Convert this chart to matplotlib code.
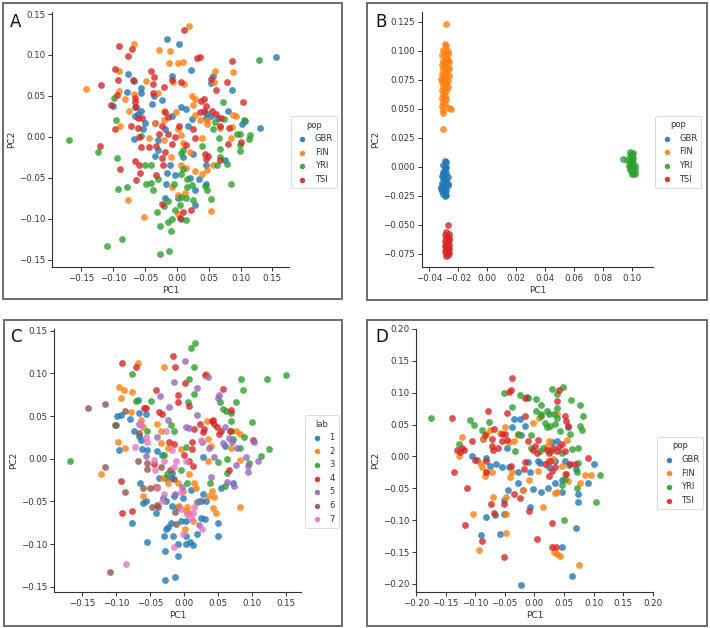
import matplotlib
matplotlib.use("Agg")
import matplotlib.pyplot as plt
from matplotlib.patches import Rectangle
from matplotlib.ticker import MultipleLocator

# ---- panel A : PCA coloured by population (pairs of PC1, PC2) ----
A_GBR = [(0.155, 0.098), (-0.015, 0.119), (0.004, 0.113), (0.022, 0.082), (-0.007, 0.074),
         (-0.077, 0.077), (-0.068, 0.068), (0.056, 0.074), (0.054, 0.066), (0.087, 0.057),
         (-0.056, 0.060), (-0.056, 0.054), (-0.078, 0.055), (-0.036, 0.050), (-0.024, 0.045),
         (0.006, 0.036), (0.015, 0.034), (-0.039, 0.040), (-0.066, 0.036), (-0.101, 0.038),
         (-0.056, 0.032), (-0.061, 0.028), (-0.066, 0.026), (0.045, 0.029), (0.046, 0.023),
         (0.054, 0.026), (0.081, 0.031), (0.065, 0.023), (0.023, 0.022), (0.017, 0.013),
         (-0.007, 0.026), (-0.018, 0.010), (-0.034, 0.017), (-0.050, 0.017), (-0.053, 0.010),
         (-0.068, -0.003), (-0.030, -0.004), (-0.030, -0.016), (-0.035, -0.023), (-0.011, -0.034),
         (0.026, -0.021), (0.009, -0.025), (0.045, -0.035), (0.075, -0.028), (0.130, 0.011),
         (0.107, 0.019), (-0.016, -0.044), (-0.003, -0.047), (-0.017, -0.058), (0.020, -0.050),
         (0.034, -0.052), (0.045, -0.057), (0.028, -0.065), (-0.019, -0.075), (0.002, -0.075),
         (0.028, -0.083), (0.006, -0.100), (0.102, 0.016)]
A_FIN = [(0.019, 0.136), (-0.068, 0.113), (-0.028, 0.106), (-0.011, 0.105), (-0.013, 0.090),
         (0.002, 0.090), (0.010, 0.092), (-0.142, 0.058), (-0.091, 0.080), (-0.091, 0.056),
         (-0.081, 0.046), (-0.067, 0.052), (-0.049, 0.068), (-0.030, 0.053), (-0.006, 0.067),
         (0.011, 0.064), (0.024, 0.050), (0.029, 0.046), (0.026, 0.039), (0.060, 0.080),
         (0.088, 0.079), (0.059, 0.067), (0.088, 0.027), (0.093, 0.025), (-0.075, 0.032),
         (-0.089, 0.013), (-0.020, 0.031), (-0.020, 0.020), (-0.002, 0.030), (0.028, 0.027),
         (0.037, 0.021), (0.048, 0.021), (0.048, 0.016), (0.068, 0.011), (0.086, 0.012),
         (-0.034, 0.017), (-0.044, -0.002), (-0.020, -0.004), (0.001, 0.010), (0.006, 0.002),
         (0.009, -0.008), (0.039, -0.002), (0.085, -0.002), (-0.010, -0.025), (0.007, -0.035),
         (0.015, -0.038), (0.029, -0.042), (0.039, -0.045), (0.048, -0.041), (0.057, -0.035),
         (-0.008, -0.061), (0.012, -0.069), (0.001, -0.071), (-0.077, -0.077), (-0.052, -0.098),
         (0.054, -0.091), (0.002, -0.094), (0.020, -0.019)]
A_YRI = [(0.129, 0.094), (-0.170, -0.004), (-0.124, -0.019), (-0.099, 0.048), (-0.096, 0.020),
         (-0.094, -0.026), (-0.092, -0.064), (-0.078, -0.061), (-0.110, -0.133), (-0.086, -0.125),
         (-0.056, 0.001), (-0.050, -0.035), (-0.040, -0.034), (-0.049, -0.058), (-0.040, -0.056),
         (-0.037, -0.065), (-0.030, -0.052), (-0.031, -0.092), (-0.027, -0.109), (-0.026, -0.143),
         (-0.013, -0.139), (-0.009, -0.115), (-0.014, -0.104), (-0.008, -0.100), (-0.020, -0.085),
         (-0.014, -0.078), (-0.004, -0.057), (0.007, -0.045), (0.009, -0.039), (0.006, -0.020),
         (0.010, -0.016), (0.016, -0.052), (0.016, -0.061), (0.023, -0.059), (0.015, -0.075),
         (0.025, -0.077), (0.006, -0.074), (0.005, -0.083), (-0.003, -0.089), (0.014, -0.102),
         (0.044, -0.060), (0.048, -0.065), (0.054, -0.076), (0.085, -0.057), (0.078, -0.033),
         (0.063, -0.034), (0.068, -0.015), (0.068, -0.025), (0.056, 0.010), (0.060, 0.018),
         (0.073, 0.043), (0.074, 0.022), (0.066, -0.001), (0.040, -0.011), (0.094, 0.003),
         (0.099, -0.010), (0.099, -0.017), (0.105, 0.021), (0.115, 0.002), (0.113, -0.003),
         (0.099, 0.004)]
A_TSI = [(0.011, 0.130), (-0.091, 0.111), (-0.071, 0.107), (-0.076, 0.099), (0.032, 0.096),
         (0.037, 0.098), (0.086, 0.093), (-0.097, 0.083), (-0.092, 0.070), (-0.119, 0.063),
         (-0.069, 0.069), (-0.041, 0.081), (-0.036, 0.073), (-0.037, 0.065), (-0.037, 0.054),
         (-0.020, 0.061), (-0.007, 0.069), (0.007, 0.067), (0.053, 0.071), (0.061, 0.057),
         (0.078, 0.067), (-0.094, 0.051), (-0.103, 0.039), (-0.066, 0.047), (-0.066, 0.042),
         (-0.064, 0.036), (-0.061, 0.023), (-0.055, 0.023), (-0.061, 0.011), (-0.072, 0.013),
         (-0.097, 0.009), (-0.019, 0.030), (-0.014, 0.024), (-0.024, 0.013), (-0.028, 0.004),
         (-0.032, -0.011), (-0.044, -0.013), (-0.056, -0.013), (-0.120, -0.011), (-0.065, -0.029),
         (-0.060, -0.035), (-0.058, -0.044), (-0.064, -0.053), (-0.090, -0.039), (-0.032, -0.047),
         (-0.059, 0.000), (-0.014, 0.004), (-0.008, -0.009), (0.004, 0.013), (-0.003, 0.000),
         (-0.019, -0.019), (-0.024, -0.026), (-0.021, -0.034), (0.038, 0.044), (0.043, 0.046),
         (0.045, 0.038), (0.043, 0.032), (0.037, 0.030), (0.055, 0.032), (0.062, 0.028),
         (0.069, 0.023), (0.068, 0.013), (0.082, 0.011), (0.104, 0.042), (0.100, -0.006),
         (0.080, -0.009), (0.044, -0.021), (0.045, -0.027), (0.049, -0.023), (0.028, -0.002),
         (0.015, -0.010), (-0.024, -0.082), (0.010, -0.092), (0.022, -0.089), (0.005, -0.099),
         (0.068, -0.028), (0.026, 0.010)]

# ---- panel B : projection separating the four populations ----
B_GBR = [(-0.029, 0.005), (-0.028, 0.004), (-0.030, 0.002), (-0.028, 0.000), (-0.029, -0.002),
         (-0.030, -0.004), (-0.028, -0.005), (-0.029, -0.007), (-0.031, -0.008), (-0.027, -0.009),
         (-0.030, -0.010), (-0.029, -0.012), (-0.028, -0.013), (-0.031, -0.014), (-0.030, -0.015),
         (-0.027, -0.015), (-0.032, -0.017), (-0.029, -0.018), (-0.030, -0.019), (-0.028, -0.020),
         (-0.031, -0.021), (-0.029, -0.022), (-0.030, -0.023), (-0.029, -0.025), (-0.028, -0.024),
         (-0.027, -0.016), (-0.032, -0.019), (-0.028, -0.011), (-0.030, -0.006), (-0.029, -0.001)]
B_FIN = [(-0.028, 0.123), (-0.029, 0.106), (-0.028, 0.104), (-0.030, 0.101), (-0.027, 0.100),
         (-0.029, 0.098), (-0.031, 0.096), (-0.028, 0.094), (-0.027, 0.092), (-0.030, 0.091),
         (-0.029, 0.089), (-0.026, 0.090), (-0.031, 0.088), (-0.028, 0.086), (-0.030, 0.084),
         (-0.027, 0.083), (-0.029, 0.081), (-0.031, 0.080), (-0.028, 0.079), (-0.026, 0.078),
         (-0.030, 0.077), (-0.029, 0.075), (-0.027, 0.074), (-0.031, 0.073), (-0.028, 0.072),
         (-0.030, 0.070), (-0.029, 0.068), (-0.031, 0.066), (-0.028, 0.065), (-0.030, 0.063),
         (-0.029, 0.061), (-0.031, 0.059), (-0.028, 0.058), (-0.030, 0.056), (-0.029, 0.054),
         (-0.031, 0.052), (-0.026, 0.051), (-0.025, 0.050), (-0.030, 0.049), (-0.030, 0.046),
         (-0.030, 0.033), (-0.027, 0.097), (-0.026, 0.085), (-0.032, 0.076), (-0.027, 0.069)]
B_YRI = [(0.099, 0.013), (0.100, 0.011), (0.101, 0.012), (0.099, 0.009), (0.101, 0.008),
         (0.094, 0.007), (0.097, 0.006), (0.100, 0.006), (0.099, 0.004), (0.101, 0.003),
         (0.100, 0.002), (0.102, 0.001), (0.099, 0.000), (0.101, -0.001), (0.100, -0.002),
         (0.102, -0.003), (0.099, -0.003), (0.101, -0.005), (0.100, -0.006), (0.102, -0.006),
         (0.098, 0.001), (0.100, 0.010)]
B_TSI = [(-0.027, -0.050), (-0.028, -0.056), (-0.026, -0.058), (-0.029, -0.059), (-0.027, -0.060),
         (-0.028, -0.062), (-0.026, -0.063), (-0.029, -0.064), (-0.027, -0.065), (-0.028, -0.066),
         (-0.026, -0.067), (-0.029, -0.068), (-0.027, -0.069), (-0.028, -0.070), (-0.026, -0.071),
         (-0.029, -0.072), (-0.027, -0.073), (-0.028, -0.074), (-0.026, -0.074), (-0.027, -0.076),
         (-0.028, -0.077), (-0.026, -0.061), (-0.028, -0.068), (-0.027, -0.071)]

# ---- panel C : same PCA, coloured by lab ----
C_LAB1 = [(-0.067, 0.069), (-0.098, 0.050), (-0.092, 0.051), (-0.079, 0.047), (-0.066, 0.054),
          (-0.056, 0.052), (-0.074, 0.032), (-0.066, 0.027), (-0.063, 0.022), (-0.096, 0.010),
          (-0.062, 0.012), (-0.054, 0.010), (-0.039, 0.009), (-0.032, 0.005), (-0.036, -0.023),
          (-0.027, -0.022), (-0.018, -0.017), (-0.017, -0.023), (-0.064, -0.028), (-0.061, -0.052),
          (-0.056, -0.050), (-0.076, -0.075), (-0.041, -0.064), (-0.031, -0.046), (-0.027, -0.050),
          (-0.018, -0.055), (-0.015, -0.043), (-0.024, -0.080), (-0.026, -0.082), (-0.030, -0.091),
          (-0.019, -0.075), (-0.016, -0.091), (-0.009, -0.100), (-0.004, -0.073), (0.003, -0.073),
          (0.003, -0.091), (0.003, -0.100), (0.009, -0.097), (0.013, -0.101), (0.020, -0.088),
          (-0.054, -0.097), (-0.028, -0.108), (-0.009, -0.114), (-0.028, -0.142), (-0.013, -0.138),
          (0.025, -0.050), (0.033, -0.050), (0.028, -0.041), (0.025, -0.069), (0.031, -0.070),
          (0.051, -0.075), (0.051, -0.090), (0.055, -0.034), (0.072, -0.028), (-0.009, -0.057),
          (-0.002, -0.046), (0.010, -0.036), (0.028, 0.002), (0.060, 0.015)]
C_LAB2 = [(-0.068, 0.112), (-0.029, 0.107), (0.033, 0.099), (-0.095, 0.084), (-0.089, 0.080),
          (-0.092, 0.071), (-0.076, 0.078), (-0.078, 0.055), (-0.063, 0.045), (-0.061, 0.037),
          (-0.039, 0.041), (-0.034, 0.033), (-0.097, 0.020), (-0.087, 0.013), (-0.034, 0.018),
          (-0.023, 0.013), (-0.004, 0.011), (-0.122, -0.018), (-0.060, -0.043), (-0.042, -0.033),
          (-0.031, -0.023), (-0.024, -0.028), (-0.009, -0.028), (-0.002, -0.038), (0.008, -0.018),
          (0.015, -0.028), (0.018, -0.034), (0.005, -0.057), (-0.007, -0.055), (0.003, -0.061),
          (0.008, -0.064), (0.002, -0.082), (0.014, -0.073), (0.035, -0.043), (0.041, -0.038),
          (0.035, -0.002), (0.040, 0.015), (0.045, -0.045), (0.043, -0.058), (0.047, -0.063),
          (0.082, -0.057), (0.034, 0.044), (0.035, 0.023), (0.077, 0.032), (0.083, 0.029),
          (0.082, -0.001), (0.069, 0.013)]
C_LAB3 = [(0.010, 0.130), (0.017, 0.136), (0.015, 0.108), (0.008, 0.093), (0.015, 0.076),
          (-0.076, 0.099), (-0.070, 0.068), (-0.049, 0.068), (0.006, 0.066), (0.084, 0.093),
          (0.087, 0.080), (0.123, 0.094), (0.151, 0.098), (0.053, 0.067), (0.057, 0.058),
          (0.062, 0.056), (0.069, 0.054), (0.077, 0.067), (0.070, 0.044), (0.100, 0.043),
          (0.126, 0.012), (0.113, 0.003), (0.096, -0.005), (0.089, 0.026), (0.083, 0.013),
          (0.064, 0.000), (0.051, -0.004), (0.072, 0.023), (0.069, 0.033), (0.064, -0.017),
          (0.060, -0.032), (0.039, -0.028), (-0.019, 0.039), (-0.014, 0.032), (0.003, 0.014),
          (-0.029, 0.004), (-0.004, -0.013), (-0.025, -0.018), (-0.100, 0.040), (-0.055, 0.033),
          (-0.168, -0.002), (0.005, -0.028), (0.020, -0.051)]
C_LAB4 = [(-0.016, 0.120), (-0.013, 0.107), (-0.091, 0.112), (-0.071, 0.108), (0.001, 0.089),
          (-0.008, 0.075), (-0.008, 0.066), (0.008, 0.062), (-0.041, 0.081), (-0.056, 0.060),
          (-0.036, 0.055), (-0.033, 0.053), (0.031, 0.098), (0.057, 0.082), (0.069, 0.057),
          (0.024, 0.041), (0.030, 0.035), (0.028, 0.031), (0.015, 0.035), (0.041, 0.044),
          (0.044, 0.041), (0.049, 0.037), (0.054, 0.033), (0.043, 0.046), (0.068, 0.032),
          (0.052, 0.029), (0.012, 0.020), (0.012, 0.011), (0.000, 0.005), (0.008, -0.002),
          (0.013, -0.008), (-0.022, 0.020), (-0.014, 0.017), (-0.044, -0.006), (-0.093, -0.026),
          (-0.091, -0.063), (-0.077, -0.061), (0.066, -0.013), (0.102, 0.022), (-0.059, 0.060)]
C_LAB5 = [(0.002, 0.114), (-0.014, 0.090), (0.020, 0.083), (0.035, 0.096), (-0.035, 0.073),
          (-0.022, 0.061), (0.020, 0.051), (0.052, 0.075), (0.051, 0.071), (-0.024, 0.046),
          (0.003, 0.037), (0.008, 0.036), (0.060, 0.037), (0.057, 0.019), (0.066, 0.024),
          (0.071, 0.020), (0.078, 0.013), (0.091, 0.002), (0.094, -0.008), (0.094, -0.016),
          (0.109, -0.002), (0.104, 0.020), (0.077, -0.007), (0.074, -0.032), (0.063, -0.027),
          (0.040, -0.021), (0.037, 0.013), (0.026, 0.020), (0.045, 0.002), (-0.039, 0.026),
          (-0.056, 0.003), (-0.066, 0.041), (-0.003, -0.033), (-0.013, -0.041), (0.022, -0.050),
          (0.023, -0.077)]
C_LAB6 = [(-0.141, 0.059), (-0.117, 0.064), (-0.101, 0.039), (-0.087, 0.056), (-0.066, 0.030),
          (-0.067, -0.002), (-0.055, -0.005), (-0.054, -0.012), (-0.117, -0.010), (-0.087, -0.039),
          (-0.060, -0.034), (-0.050, -0.034), (-0.039, -0.033), (-0.047, -0.056), (-0.040, -0.054),
          (-0.038, -0.057), (-0.034, -0.010), (-0.021, -0.013), (-0.015, -0.024), (-0.013, -0.062),
          (-0.011, -0.076), (-0.109, -0.132)]
C_LAB7 = [(-0.072, 0.014), (-0.063, 0.039), (-0.064, 0.042), (-0.056, 0.025), (-0.054, 0.020),
          (-0.044, -0.001), (-0.042, -0.013), (-0.029, -0.002), (-0.026, 0.032), (-0.017, 0.010),
          (-0.012, -0.002), (-0.014, -0.010), (0.003, -0.002), (-0.039, -0.034), (-0.029, -0.041),
          (-0.033, -0.050), (-0.004, -0.039), (0.005, -0.065), (0.010, -0.069), (0.013, -0.063),
          (0.015, -0.056), (-0.002, -0.088), (-0.014, -0.103), (0.027, -0.082), (0.025, 0.022),
          (-0.086, -0.123), (-0.004, -0.059)]

# ---- panel D : another PCA, coloured by population ----
D_GBR = [(-0.023, -0.201), (0.063, -0.188), (0.070, -0.112), (0.047, -0.142), (-0.090, -0.123),
         (-0.058, -0.122), (-0.082, -0.095), (-0.066, -0.092), (-0.052, -0.091), (-0.051, -0.069),
         (-0.045, -0.053), (-0.007, -0.080), (-0.020, -0.053), (-0.003, -0.051), (0.012, -0.056),
         (0.023, -0.049), (0.035, -0.041), (0.047, -0.055), (0.046, -0.037), (0.073, -0.059),
         (0.073, -0.071), (0.090, -0.042), (0.100, -0.012), (0.070, -0.020), (0.052, -0.007),
         (-0.106, 0.000), (-0.097, -0.005), (-0.081, -0.002), (-0.075, -0.015), (-0.065, -0.012),
         (-0.055, -0.017), (-0.043, -0.016), (-0.047, 0.014), (-0.034, 0.059), (-0.024, 0.059),
         (-0.015, 0.048), (-0.013, 0.093), (-0.038, 0.046), (-0.023, 0.033), (-0.028, -0.025),
         (-0.027, -0.041), (-0.007, -0.025), (-0.010, -0.008), (0.007, -0.007), (0.010, -0.011),
         (0.035, -0.007), (0.024, -0.017), (0.038, 0.025), (0.030, 0.022), (-0.086, 0.027),
         (0.057, 0.046)]
D_FIN = [(-0.122, 0.031), (-0.127, 0.000), (-0.092, -0.011), (-0.089, -0.016), (-0.083, -0.030),
         (-0.081, -0.024), (-0.072, -0.024), (-0.086, 0.027), (-0.082, 0.035), (-0.075, 0.042),
         (-0.058, 0.037), (-0.050, 0.046), (-0.042, 0.022), (-0.034, 0.025), (-0.027, 0.033),
         (-0.041, -0.032), (-0.038, -0.025), (-0.070, -0.064), (-0.048, -0.064), (-0.048, -0.091),
         (-0.104, -0.090), (-0.048, -0.120), (-0.093, -0.146), (-0.019, -0.053), (-0.009, -0.037),
         (0.006, -0.022), (0.014, -0.079), (0.008, 0.060), (-0.002, 0.052), (0.023, -0.007),
         (0.032, -0.004), (0.035, -0.057), (0.039, -0.055), (0.033, -0.150), (0.038, -0.153),
         (0.043, -0.156), (0.075, -0.170), (0.086, -0.029), (0.096, -0.029), (0.077, -0.041),
         (0.057, -0.038), (0.052, -0.028), (0.038, 0.067), (0.024, 0.025), (0.021, 0.017),
         (0.055, 0.026), (0.046, -0.015)]
D_YRI = [(-0.174, 0.060), (-0.127, 0.019), (-0.108, 0.058), (-0.102, 0.050), (-0.089, 0.042),
         (-0.077, 0.054), (-0.052, 0.099), (-0.037, 0.078), (-0.027, 0.036), (-0.033, 0.009),
         (-0.024, 0.097), (-0.011, 0.092), (-0.005, 0.034), (0.003, 0.090), (0.003, 0.072),
         (0.011, 0.081), (0.011, 0.067), (0.012, 0.063), (0.030, 0.106), (0.049, 0.109),
         (0.038, 0.098), (0.021, 0.072), (0.024, 0.067), (0.021, 0.047), (0.026, 0.048),
         (0.034, 0.067), (0.038, 0.061), (0.038, 0.076), (0.062, 0.089), (0.077, 0.081),
         (0.083, 0.064), (0.077, 0.048), (0.080, 0.042), (0.060, 0.035), (0.018, 0.052),
         (0.063, 0.012), (0.074, 0.014), (0.074, -0.010), (0.059, -0.013), (0.072, -0.024),
         (0.072, -0.050), (0.111, -0.029), (0.105, -0.071), (0.050, -0.100), (0.052, -0.036),
         (0.046, -0.044), (0.035, 0.051), (0.043, 0.040), (0.046, 0.006), (0.028, 0.009),
         (0.015, 0.014), (-0.005, 0.014), (0.010, 0.009)]
D_TSI = [(-0.038, 0.123), (-0.040, 0.105), (-0.042, 0.101), (-0.015, 0.091), (0.042, 0.104),
         (0.038, 0.087), (0.052, 0.063), (0.053, 0.055), (0.057, 0.048), (-0.047, 0.069),
         (-0.078, 0.071), (-0.016, 0.064), (-0.140, 0.060), (-0.106, 0.025), (-0.130, 0.010),
         (-0.123, 0.014), (-0.126, 0.007), (-0.119, 0.010), (-0.136, -0.025), (-0.100, -0.006),
         (-0.083, 0.033), (-0.081, -0.007), (-0.081, -0.024), (-0.072, 0.027), (-0.071, 0.017),
         (-0.070, 0.010), (-0.068, 0.043), (-0.061, 0.014), (-0.055, 0.036), (-0.054, 0.025),
         (-0.046, 0.026), (-0.050, 0.036), (-0.039, -0.015), (-0.113, -0.050), (-0.117, -0.107),
         (-0.089, -0.133), (-0.073, -0.074), (-0.068, -0.088), (-0.051, -0.075), (-0.052, -0.157),
         (-0.034, -0.059), (-0.025, -0.065), (-0.009, -0.086), (0.004, -0.129), (0.030, -0.105),
         (0.029, -0.142), (0.037, -0.142), (-0.016, -0.009), (-0.017, -0.019), (-0.011, 0.025),
         (-0.002, 0.010), (0.001, 0.017), (0.004, 0.006), (0.006, 0.026), (0.021, 0.010),
         (0.025, 0.006), (0.026, -0.007), (0.029, -0.023), (0.025, -0.030), (0.032, 0.014),
         (0.038, 0.009), (0.042, 0.015), (0.046, 0.019), (0.052, 0.008), (0.035, -0.017),
         (0.060, -0.012), (0.069, -0.012), (0.090, -0.003), (0.018, -0.012), (0.053, -0.028)]

POP_NAMES = ["GBR", "FIN", "YRI", "TSI"]
LAB_NAMES = ["1", "2", "3", "4", "5", "6", "7"]
TAB = ["#1f77b4", "#ff7f0e", "#2ca02c", "#d62728", "#9467bd", "#8c564b", "#e377c2"]

W, H = 710, 628
fig = plt.figure(figsize=(W / 100, H / 100), dpi=100)
plt.rcParams['font.family'] = ['DejaVu Sans']


def px_axes(left, top, right, bottom):
    "axes from pixel box (origin top-left)"
    return fig.add_axes([left / W, 1 - bottom / H, (right - left) / W, (bottom - top) / H])


def frame(left, top, right, bottom):
    fig.patches.append(Rectangle((left / W, 1 - bottom / H), (right - left) / W, (bottom - top) / H,
                                 transform=fig.transFigure, fill=False, edgecolor="#606060",
                                 linewidth=1.3))


def panel(ax, groups, names, title, xlim, ylim, xstep, ystep, leg_xy, letter, letter_xy):
    for i, (pts, name) in enumerate(zip(groups, names)):
        ax.scatter([p[0] for p in pts], [p[1] for p in pts], s=24, color=TAB[i],
                   alpha=0.8, linewidths=0, label=name)
    ax.set_xlim(*xlim)
    ax.set_ylim(*ylim)
    ax.xaxis.set_major_locator(MultipleLocator(xstep))
    ax.yaxis.set_major_locator(MultipleLocator(ystep))
    for s in ["top", "right"]:
        ax.spines[s].set_visible(False)
    for s in ["left", "bottom"]:
        ax.spines[s].set_color("#333333")
        ax.spines[s].set_linewidth(0.8)
    ax.tick_params(labelsize=6.2, colors="#333333", length=3, width=0.7, pad=2)
    ax.set_xlabel("PC1", fontsize=6.5, color="#333333", labelpad=2)
    ax.set_ylabel("PC2", fontsize=6.5, color="#333333", labelpad=2)
    leg = ax.legend(title=title, loc="center left", bbox_to_anchor=leg_xy, fontsize=6,
                    title_fontsize=6, frameon=True, markerscale=0.8, handletextpad=0.6,
                    labelspacing=0.55, borderpad=0.5, handlelength=1.8)
    leg.get_frame().set_edgecolor("#cccccc")
    leg.get_frame().set_linewidth(0.6)
    for t in leg.get_texts():
        t.set_color("#333333")
    leg.get_title().set_color("#333333")
    for h in leg.legend_handles:
        h.set_alpha(0.9)
    fig.text(letter_xy[0] / W, 1 - letter_xy[1] / H, letter, fontsize=12, ha="left",
             va="baseline", color="#111111")


frame(3, 3, 342, 299)
frame(367, 3, 707, 300)
frame(4, 320, 342, 626)
frame(367, 320, 707, 626)

axA = px_axes(52, 12, 289, 267)
panel(axA, [A_GBR, A_FIN, A_YRI, A_TSI], POP_NAMES, "pop", (-0.196, 0.176), (-0.159, 0.1525),
      0.05, 0.05, (0.99, 0.45), "A", (10, 27))

axB = px_axes(421.7, 12, 653, 267)
panel(axB, [B_GBR, B_FIN, B_YRI, B_TSI], POP_NAMES, "pop", (-0.045, 0.1147), (-0.0862, 0.1333),
      0.02, 0.025, (0.99, 0.451), "B", (375, 27))

axC = px_axes(54.3, 329, 301, 592)
panel(axC, [C_LAB1, C_LAB2, C_LAB3, C_LAB4, C_LAB5, C_LAB6, C_LAB7], LAB_NAMES, "lab",
      (-0.191, 0.1726), (-0.156, 0.152), 0.05, 0.05, (1.0, 0.458), "C", (10, 342))

axD = px_axes(416, 329, 652.7, 592)
panel(axD, [D_GBR, D_FIN, D_YRI, D_TSI], POP_NAMES, "pop", (-0.2, 0.2), (-0.2126, 0.2),
      0.05, 0.05, (1.0, 0.452), "D", (375, 342))

fig.savefig("out.png", dpi=100)
